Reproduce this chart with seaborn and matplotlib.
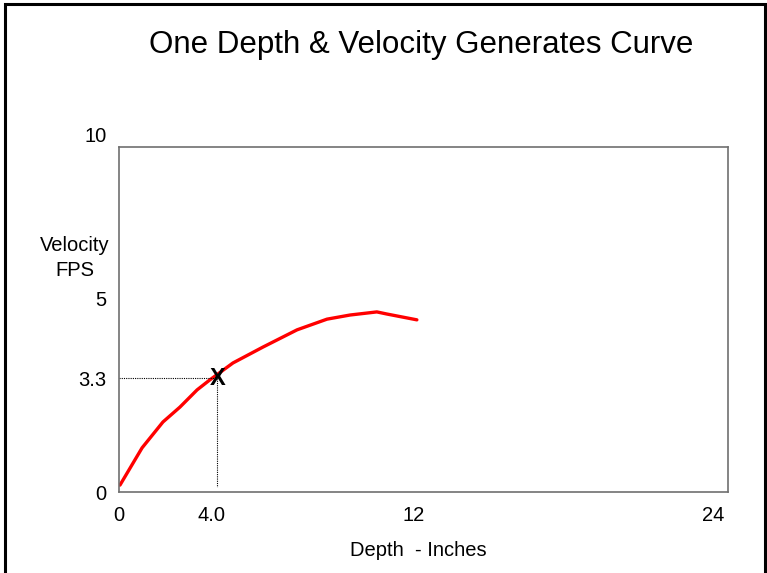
import matplotlib
matplotlib.use("Agg")
import matplotlib.pyplot as plt
import matplotlib.patches as patches
import matplotlib.transforms as mtransforms
import seaborn as sns
import pandas as pd

# Data
depth = [0.04, 0.94, 1.79, 2.48, 3.18, 3.7, 4.64, 5.86, 7.25, 8.47, 9.41, 10.5, 10.9, 12.13]
velocity = [0.2, 1.28, 2.03, 2.46, 2.96, 3.25, 3.74, 4.2, 4.7, 5.01, 5.13, 5.22, 5.16, 4.99]
point_depth = 4.0
point_velocity = 3.3
x_ticks = [0, 4, 12, 24]
x_tick_labels = ["0", "4.0", "12", "24"]
y_ticks = [0, 3.3, 5, 10]
y_tick_labels = ["0", "3.3", "5", "10"]

sns.set_theme(style="white")
plt.rcParams["font.family"] = ["Liberation Sans", "DejaVu Sans"]
plt.rcParams["text.color"] = "black"
plt.rcParams["xtick.color"] = "black"
plt.rcParams["ytick.color"] = "black"

fig = plt.figure(figsize=(7.67, 5.73), dpi=100)
ax = fig.add_axes([119 / 767, 1 - 492 / 573, 609 / 767, 345 / 573])

df = pd.DataFrame({"Depth": depth, "Velocity": velocity})
sns.lineplot(data=df, x="Depth", y="Velocity", ax=ax, color="#ff0000", lw=2.4, sort=False)

ax.set_xlim(0, 24.8)
ax.set_ylim(0, 10)

# guide lines to the point
ax.plot([0, point_depth], [point_velocity, point_velocity], color="black", lw=0.8, ls=(0, (1, 1)))
ax.plot([point_depth, point_depth], [point_velocity, 0.15], color="black", lw=0.8, ls=(0, (1, 1)))
ax.text(point_depth, point_velocity, "X", ha="center", va="center", fontsize=17,
        fontweight="bold", color="black")

fs = 14.5
ax.set_xticks(x_ticks)
ax.set_xticklabels(x_tick_labels, fontsize=fs)
ax.set_yticks(y_ticks)
ax.set_yticklabels(y_tick_labels, fontsize=fs)
ax.tick_params(axis="both", length=0, colors="black")
ax.tick_params(axis="y", pad=9)
ax.tick_params(axis="x", pad=10)

# nudge labels as in reference
offsets_y = {"5": 21, "10": 12}
for lab in ax.get_yticklabels():
    dy = offsets_y.get(lab.get_text(), 0)
    if dy:
        lab.set_transform(lab.get_transform() + mtransforms.ScaledTranslation(0, dy / 100, fig.dpi_scale_trans))
offsets_x = {"4.0": -6, "24": 5}
for lab in ax.get_xticklabels():
    dx = offsets_x.get(lab.get_text(), 0)
    if dx:
        lab.set_transform(lab.get_transform() + mtransforms.ScaledTranslation(dx / 100, 0, fig.dpi_scale_trans))

ax.set_xlabel("")
ax.set_ylabel("")

for s in ax.spines.values():
    s.set_visible(True)
    s.set_color("#707070")
    s.set_linewidth(1.2)

fig.text(75 / 767, 1 - 258 / 573, "Velocity\nFPS", ha="center", va="center", fontsize=fs,
         linespacing=1.4, color="black")
fig.text(418 / 767, 1 - 550 / 573, "Depth  - Inches", ha="center", va="center", fontsize=fs,
         color="black")
fig.text(421 / 767, 1 - 45 / 573, "One Depth & Velocity Generates Curve", ha="center",
         va="center", fontsize=22.5, color="black")

fig.patches.append(patches.Rectangle((5 / 767, -0.2), 760 / 767, 1.2 - 4 / 573, transform=fig.transFigure,
                                     fill=False, edgecolor="black", lw=2.2, figure=fig))

fig.savefig("out.png", dpi=100, facecolor="white")
